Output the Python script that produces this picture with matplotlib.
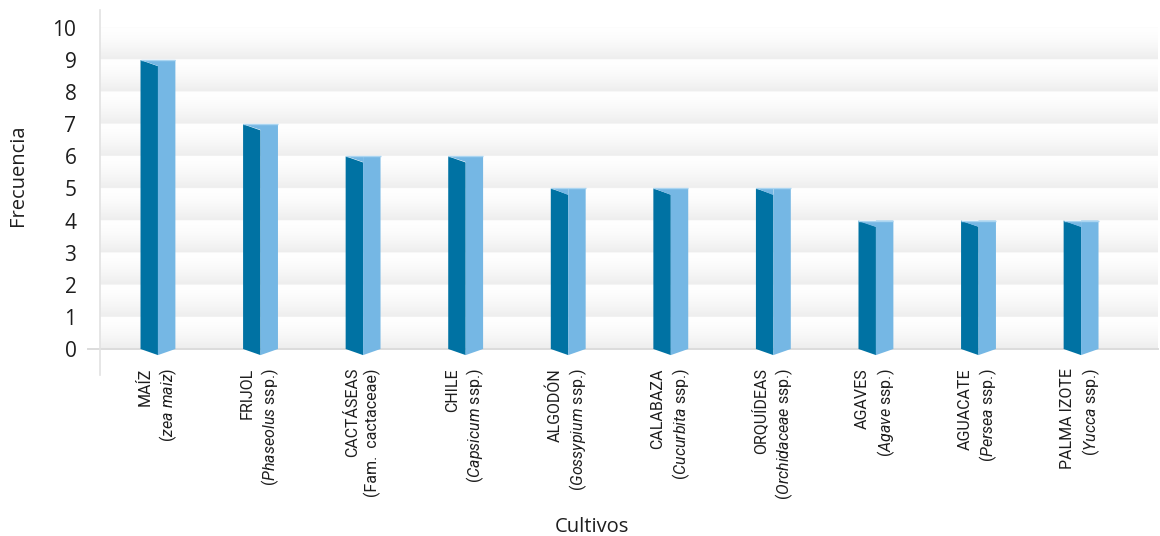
import numpy as np
import matplotlib
matplotlib.use("Agg")
import matplotlib.pyplot as plt
from matplotlib.patches import Polygon
from matplotlib.transforms import blended_transform_factory

# Crop names and how often each one was recorded
cultivos = ["MAÍZ", "FRIJOL", "CACTÁSEAS", "CHILE", "ALGODÓN",
            "CALABAZA", "ORQUÍDEAS", "AGAVES", "AGUACATE", "PALMA IZOTE"]
nombres_cientificos = [r"($\it{zea\ maiz}$)", r"($\it{Phaseolus}$ ssp.)", "(Fam.  cactaceae)",
                       r"($\it{Capsicum}$ ssp.)", r"($\it{Gossypium}$ ssp.)",
                       r"($\it{Cucurbita}$ ssp.)", r"($\it{Orchidaceae}$ ssp.)",
                       r"($\it{Agave}$ ssp.)", r"($\it{Persea}$ ssp.)", r"($\it{Yucca}$ ssp.)"]
frecuencia = [9, 7, 6, 6, 5, 5, 5, 4, 4, 4]
y_ticks = list(range(0, 11))

plt.rcParams["font.family"] = ["Open Sans", "DejaVu Sans"]
plt.rcParams["mathtext.fontset"] = "custom"
plt.rcParams["mathtext.rm"] = "Roboto"
plt.rcParams["mathtext.it"] = "Roboto:italic"

DARK = "#0072a3"
LIGHT = "#75b7e4"
EDGE = "#aad5f1"
TXT = "#1e1e1e"

fig = plt.figure(figsize=(11.6, 5.36), dpi=100)
ax = fig.add_axes([100 / 1160, 1 - 375 / 536, 1058 / 1160, 365 / 536])
XL = (-0.565, len(cultivos) - 0.25)
YL = (-0.81, 10.56)

# banded background: each unit band fades from white (top) to light grey (bottom)
yy = np.linspace(0, 10, 2000)
frac = yy - np.floor(yy)
shade = 1 - 0.07 * (1 - frac) ** 1.6
img = np.repeat(shade[:, None], 2, axis=1)
ax.imshow(np.dstack([img, img, img]), origin="lower", aspect="auto",
          extent=(XL[0], XL[1], 0, 10), zorder=0, interpolation="bilinear")
ax.set_xlim(*XL)
ax.set_ylim(*YL)

# prism-like bars: dark left face, light right face, slanted top and pointed base
w = 0.17
d = 0.19
for i, v in enumerate(frecuencia):
    left = Polygon([(i - w, v), (i, v - d), (i, -d), (i - w, 0)], closed=True,
                   facecolor=DARK, edgecolor="none", zorder=3)
    right = Polygon([(i, v), (i + w, v), (i + w, 0), (i, -d)], closed=True,
                    facecolor=LIGHT, edgecolor="none", zorder=3)
    top = Polygon([(i - w, v), (i, v), (i, v - d)], closed=True,
                  facecolor=LIGHT, edgecolor="none", zorder=3)
    ax.add_patch(left)
    ax.add_patch(right)
    ax.add_patch(top)
    ax.plot([i - w, i + w], [v, v], color=EDGE, lw=1.0, zorder=4,
            solid_capstyle="butt")

# baseline at zero, reaching slightly past the vertical axis
trans = blended_transform_factory(ax.transAxes, ax.transData)
ax.plot([-12 / 1058, 1], [0, 0], transform=trans, color="#dcdcdc", lw=1.4,
        clip_on=False, zorder=2)

for s in ["top", "right", "bottom"]:
    ax.spines[s].set_visible(False)
ax.spines["left"].set_color("#e2e2e2")
ax.spines["left"].set_linewidth(1.2)

ax.set_yticks(y_ticks)
ax.set_yticklabels([str(t) for t in y_ticks], fontsize=15, color=TXT)
ax.tick_params(axis="y", length=0, pad=17)

ax.set_xticks(range(len(cultivos)))
ax.set_xticklabels([f"{c}\n{n}" for c, n in zip(cultivos, nombres_cientificos)],
                   rotation=90, fontsize=11.5, color=TXT, family="Roboto",
                   multialignment="right", linespacing=1.3)
ax.tick_params(axis="x", length=0, pad=-5)

fig.text(592 / 1160, 1 - 527 / 536, "Cultivos", ha="center", va="center",
         fontsize=14.5, color=TXT, fontweight="medium")
fig.text(18 / 1160, 1 - 175 / 536, "Frecuencia", ha="center", va="center",
         rotation=90, fontsize=14.5, color=TXT, fontweight="medium")

fig.savefig("out.png", dpi=100, facecolor="white")
